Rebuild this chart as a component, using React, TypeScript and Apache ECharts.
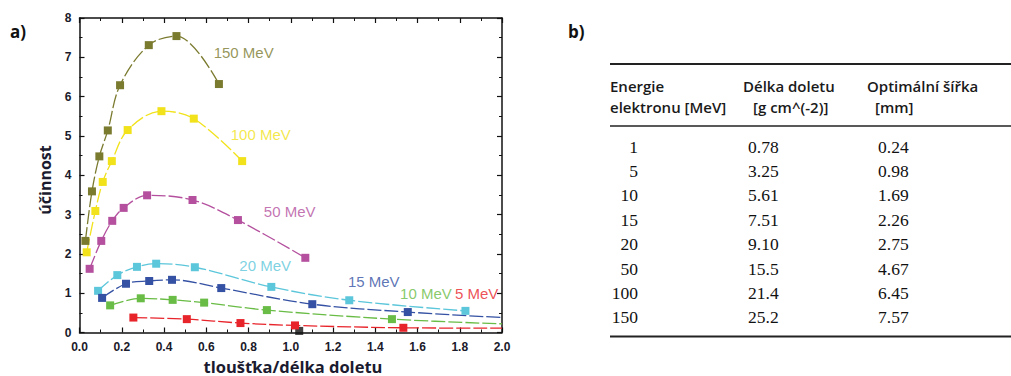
import React, { useEffect, useRef } from "react";
import * as echarts from "echarts";

// ---- chart data (x = tloušťka/délka doletu, y = účinnost) ----
const s150: [number, number][] = [[0.028, 2.33], [0.059, 3.59], [0.094, 4.48], [0.134, 5.14], [0.192, 6.29], [0.328, 7.31], [0.459, 7.54], [0.66, 6.32]];
const s100: [number, number][] = [[0.034, 2.04], [0.075, 3.09], [0.11, 3.83], [0.153, 4.36], [0.228, 5.15], [0.388, 5.63], [0.541, 5.44], [0.77, 4.36]];
const s50: [number, number][] = [[0.048, 1.62], [0.103, 2.33], [0.155, 2.84], [0.209, 3.17], [0.32, 3.49], [0.535, 3.37], [0.75, 2.86], [1.069, 1.9]];
const s20: [number, number][] = [[0.088, 1.06], [0.179, 1.46], [0.272, 1.67], [0.363, 1.75], [0.546, 1.66], [0.908, 1.16], [1.277, 0.82], [1.827, 0.55]];
const s15: [number, number][] = [[0.107, 0.88], [0.22, 1.24], [0.33, 1.31], [0.438, 1.34], [0.671, 1.13], [1.102, 0.72], [1.554, 0.52]];
const s15Tail: [number, number] = [2.0, 0.38];
const s10: [number, number][] = [[0.145, 0.69], [0.29, 0.87], [0.441, 0.83], [0.59, 0.76], [0.887, 0.57], [1.479, 0.34]];
const s10Tail: [number, number] = [2.0, 0.22];
const s5: [number, number][] = [[0.255, 0.38], [0.508, 0.34], [0.762, 0.24], [1.02, 0.18], [1.533, 0.12]];
const s5Tail: [number, number] = [2.0, 0.11];
const s1: [number, number][] = [[1.04, 0.04]];

const seriesNames = ["150 MeV", "100 MeV", "50 MeV", "20 MeV", "15 MeV", "10 MeV", "5 MeV"];
const seriesColors = ["#7b7b30", "#f1e21c", "#b4509e", "#5cc6da", "#3451a3", "#69bc45", "#e8242b"];
const labelPos: [number, number][] = [[0.777, 7.11], [0.858, 5.04], [0.995, 3.07], [0.879, 1.7], [1.393, 1.3], [1.64, 1.0], [1.88, 0.98]];

// ---- table data ----
const tableHeader1 = ["Energie", "Délka doletu", "Optimální šířka"];
const tableHeader2 = ["elektronu [MeV]", "[g cm^(-2)]", "[mm]"];
const energies = ["1", "5", "10", "15", "20", "50", "100", "150"];
const ranges = ["0.78", "3.25", "5.61", "7.51", "9.10", "15.5", "21.4", "25.2"];
const widths = ["0.24", "0.98", "1.69", "2.26", "2.75", "4.67", "6.45", "7.57"];

export default function App() {
  const ref = useRef<HTMLDivElement>(null);

  useEffect(() => {
    if (!ref.current) return;
    const chart = echarts.init(ref.current, null, { renderer: "svg" });

    const allSeries = [s150, s100, s50, s20, s15, s10, s5];
    const tails: ([number, number] | null)[] = [null, null, null, null, s15Tail, s10Tail, s5Tail];

    const lineSeries = allSeries.map((d, i) => {
      const data: any[] = d.map((p) => p);
      const t = tails[i];
      if (t) data.push({ value: t, symbol: "none" });
      return {
        type: "line",
        name: seriesNames[i],
        data,
        smooth: 0.35,
        symbol: "rect",
        symbolSize: 8,
        showAllSymbol: true,
        lineStyle: { color: seriesColors[i], width: 1.3, type: [14, 3] },
        itemStyle: { color: seriesColors[i] },
        z: 3,
      };
    });

    const axisCommon = {
      type: "value",
      axisLine: { show: true, onZero: false, lineStyle: { color: "#111", width: 1.5 } },
      axisTick: { show: true, inside: true, length: 5, lineStyle: { color: "#111", width: 1.2 } },
      minorTick: { show: true, splitNumber: 2, length: 3, lineStyle: { color: "#111", width: 1 } },
      splitLine: { show: false },
    };
    const tickFont = { color: "#1a1a2a", fontWeight: "bold", fontSize: 12, fontFamily: "Liberation Sans, Arial, sans-serif" };

    const graphic: any[] = [];
    graphic.push({ type: "text", x: 10, y: 31, style: { text: "a)", fontSize: 17, fontWeight: "bold", fontFamily: "Open Sans, sans-serif", fill: "#111", verticalAlign: "middle" } });
    graphic.push({ type: "text", x: 568, y: 31, style: { text: "b)", fontSize: 17, fontWeight: "bold", fontFamily: "Open Sans, sans-serif", fill: "#111", verticalAlign: "middle" } });
    graphic.push({ type: "text", x: 45, y: 180, rotation: Math.PI / 2, style: { text: "účinnost", fontSize: 16, fontWeight: "bold", fontFamily: "Open Sans, sans-serif", fill: "#1b1b30", align: "center", verticalAlign: "middle" } });
    graphic.push({ type: "text", x: 293, y: 366, style: { text: "tloušťka/délka doletu", fontSize: 16.5, fontWeight: "bold", fontFamily: "Open Sans, sans-serif", fill: "#1b1b30", align: "center", verticalAlign: "middle" } });

    // table rules
    const rule = (y: number, w: number) => ({ type: "line", shape: { x1: 610, y1: y, x2: 1011, y2: y }, style: { stroke: "#222", lineWidth: w } });
    graphic.push(rule(64, 2));
    graphic.push(rule(126, 1.6));
    graphic.push(rule(336.5, 2));

    const headX = [610, 743, 867];
    const headX2 = [610, 753, 875];
    const headFont = { fontSize: 15, fontWeight: 600, fontFamily: "Open Sans, sans-serif", fill: "#1a1a1a", verticalAlign: "middle" };
    tableHeader1.forEach((t, i) => graphic.push({ type: "text", x: headX[i], y: 86, style: { ...headFont, text: t, align: "left" } }));
    tableHeader2.forEach((t, i) => graphic.push({ type: "text", x: headX2[i], y: 107, style: { ...headFont, text: t, align: "left" } }));

    const cellFont = { fontSize: 17.5, fontFamily: "Liberation Serif, Times New Roman, serif", fill: "#111", verticalAlign: "middle" };
    energies.forEach((e, i) => {
      const y = 146.5 + i * 24.4;
      graphic.push({ type: "text", x: 638, y, style: { ...cellFont, text: e, align: "right" } });
      graphic.push({ type: "text", x: 748, y, style: { ...cellFont, text: ranges[i], align: "left" } });
      graphic.push({ type: "text", x: 878, y, style: { ...cellFont, text: widths[i], align: "left" } });
    });

    chart.setOption({
      animation: false,
      backgroundColor: "#fff",
      grid: { left: 79.5, right: 509, top: 18, bottom: 43.5 },
      xAxis: [
        { ...axisCommon, position: "bottom", min: 0, max: 2, interval: 0.2, axisLabel: { ...tickFont, margin: 8, formatter: (v: number) => v.toFixed(1) } },
        { ...axisCommon, position: "top", min: 0, max: 2, interval: 0.2, axisLabel: { show: false } },
      ],
      yAxis: [
        { ...axisCommon, position: "left", min: 0, max: 8, interval: 1, axisLabel: { ...tickFont, margin: 8 } },
        { ...axisCommon, position: "right", min: 0, max: 8, interval: 1, axisLabel: { show: false } },
      ],
      series: [
        ...lineSeries,
        {
          type: "scatter",
          data: s1,
          symbol: "rect",
          symbolSize: 8,
          itemStyle: { color: "#111" },
          z: 2,
        },
        {
          type: "scatter",
          data: labelPos.map((p, i) => ({
            value: p,
            name: seriesNames[i],
            label: { color: seriesColors[i] },
          })),
          symbolSize: 0,
          label: {
            show: true,
            position: "inside",
            formatter: (p: any) => p.name,
            fontSize: 15,
            fontFamily: "Liberation Sans, Arial, sans-serif",
          },
          silent: true,
          z: 4,
        },
      ],
      graphic,
    });

    return () => chart.dispose();
  }, []);

  return <div ref={ref} style={{ position: "fixed", left: 0, top: 0, width: 1011, height: 376 }} />;
}
